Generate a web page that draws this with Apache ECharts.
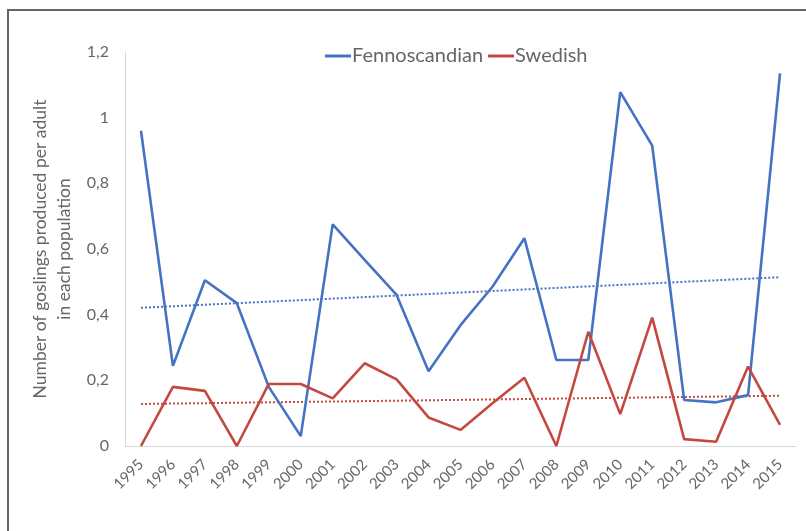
<!DOCTYPE html>
<html>
<head>
<meta charset="utf-8">
<script src="https://cdn.jsdelivr.net/npm/echarts@6/dist/echarts.min.js"></script>
<style>
  html, body { margin: 0; padding: 0; background: #ffffff; }
  #chart { width: 806px; height: 531px; }
</style>
</head>
<body>
<div id="chart"></div>
<script>
// Breeding success of two goose populations, 1995-2015
const years = ['1995','1996','1997','1998','1999','2000','2001','2002','2003','2004','2005',
               '2006','2007','2008','2009','2010','2011','2012','2013','2014','2015'];

const fennoscandian = [0.96, 0.244, 0.505, 0.435, 0.18, 0.03, 0.675, 0.567, 0.46, 0.228, 0.368,
                       0.485, 0.633, 0.262, 0.262, 1.078, 0.915, 0.14, 0.133, 0.155, 1.135];

const swedish = [0.0, 0.18, 0.168, 0.0, 0.189, 0.189, 0.145, 0.252, 0.203, 0.087, 0.049,
                 0.13, 0.208, 0.0, 0.348, 0.097, 0.391, 0.021, 0.013, 0.242, 0.064];

// Linear trend end values (first and last year)
const fennoTrend = [0.421, 0.514];
const swedishTrend = [0.128, 0.153];

const yTicks = [0, 0.2, 0.4, 0.6, 0.8, 1, 1.2];

const BLUE = '#4472C4';
const RED = '#C4483F';
const TEXT = '#666666';
const FONT = 'Lato';

function trendData(ends) {
  return [[0, ends[0]], [years.length - 1, ends[1]]];
}

const chart = echarts.init(document.getElementById('chart'), null, { renderer: 'canvas' });

chart.setOption({
  animation: false,
  backgroundColor: '#ffffff',
  textStyle: { fontFamily: FONT },
  graphic: [{
    type: 'rect',
    shape: { x: 8, y: 10, width: 830, height: 560 },
    style: { fill: 'none', stroke: '#666666', lineWidth: 2 },
    silent: true
  }],
  legend: {
    top: 41,
    left: 320,
    itemWidth: 26,
    itemHeight: 3,
    itemGap: 5,
    icon: 'rect',
    data: ['Fennoscandian', 'Swedish'],
    textStyle: { color: TEXT, fontSize: 20, fontFamily: FONT, padding: [0, 0, 0, -4] }
  },
  grid: { left: 125, right: 10, top: 52, bottom: 85, containLabel: false },
  xAxis: {
    type: 'category',
    data: years,
    boundaryGap: true,
    axisLine: { lineStyle: { color: '#d9d9d9', width: 1 } },
    axisTick: { show: false },
    axisLabel: { color: TEXT, fontSize: 15, fontFamily: FONT, rotate: 45, margin: 16, interval: 0 },
    splitLine: { show: false }
  },
  yAxis: {
    type: 'value',
    min: yTicks[0],
    max: yTicks[yTicks.length - 1],
    interval: 0.2,
    name: 'Number of goslings produced per adult\nin each population',
    nameLocation: 'middle',
    nameRotate: 90,
    nameGap: 45,
    nameTextStyle: { color: TEXT, fontSize: 17.5, fontFamily: FONT, lineHeight: 24 },
    axisLine: { show: true, lineStyle: { color: '#d9d9d9', width: 1 } },
    axisTick: { show: false },
    splitLine: { show: false },
    axisLabel: {
      color: TEXT, fontSize: 16, fontFamily: FONT, margin: 16,
      formatter: v => String(Math.round(v * 10) / 10).replace('.', ',')
    }
  },
  series: [
    {
      name: 'Fennoscandian', type: 'line', data: fennoscandian,
      showSymbol: false, symbol: 'none',
      lineStyle: { color: BLUE, width: 2.6 }, itemStyle: { color: BLUE }, z: 3
    },
    {
      name: 'Swedish', type: 'line', data: swedish,
      showSymbol: false, symbol: 'none',
      lineStyle: { color: RED, width: 2.6 }, itemStyle: { color: RED }, z: 3
    },
    {
      name: 'Fennoscandian trend', type: 'line', data: trendData(fennoTrend),
      showSymbol: false, symbol: 'none',
      lineStyle: { color: BLUE, width: 2, type: [2, 2] }, z: 2
    },
    {
      name: 'Swedish trend', type: 'line', data: trendData(swedishTrend),
      showSymbol: false, symbol: 'none',
      lineStyle: { color: RED, width: 2, type: [2, 2] }, z: 2
    }
  ]
});
</script>
</body>
</html>
